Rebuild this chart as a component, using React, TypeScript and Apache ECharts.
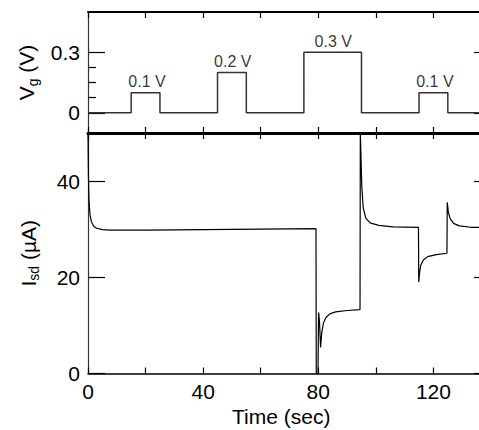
import React, { useEffect, useRef } from "react";
import * as echarts from "echarts";

// ---- Data ----
const gateTime = [0, 15, 15, 25, 25, 45, 45, 55, 55, 75, 75, 95, 95, 115, 115, 125, 125, 140];
const gateVoltage = [0, 0, 0.1, 0.1, 0, 0, 0.2, 0.2, 0, 0, 0.3, 0.3, 0, 0, 0.1, 0.1, 0, 0];

const pulseLabelTime = [20.5, 50.3, 85.2, 120.5];
const pulseLabelVoltage = [0.1, 0.2, 0.3, 0.1];
const pulseLabels = ["0.1 V", "0.2 V", "0.3 V", "0.1 V"];

const currentTime = [
  0, 0.15, 0.35, 0.7, 1.2, 2, 3, 5, 8, 20, 40, 60, 79.2,
  79.3, 79.9, 80.1, 80.4, 80.8, 81.2, 81.8, 82.6, 84, 86, 90, 94.5,
  94.6, 94.8, 95.1, 95.6, 96.5, 98, 101, 106, 114.8,
  114.9, 115.2, 115.6, 116.5, 118, 121, 124.7,
  124.8, 125.2, 125.8, 127, 129, 133, 140,
];
const currentValue = [
  50, 41, 36, 33, 31.5, 30.6, 30.2, 29.9, 29.8, 29.8, 29.9, 30.0, 30.1,
  0, 0, 12.7, 11, 5.4, 8.5, 10.5, 11.6, 12.4, 12.8, 13.1, 13.3,
  50, 46, 39, 34.5, 32.3, 31.3, 30.8, 30.5, 30.4,
  19, 21, 22.5, 23.6, 24.3, 24.7, 25,
  35.6, 33.5, 32.2, 31.2, 30.7, 30.4, 30.3,
];

const timeTicks = [0, 20, 40, 60, 80, 100, 120, 140];
const timeLabels = [0, 40, 80, 120];
const gateMajorTicks = [0, 0.3];
const gateMinorTicks = [0.075, 0.15, 0.225];
const currentTicks = [0, 20, 40];

const FONT = "'Liberation Sans', Arial, Helvetica, sans-serif";

export default function App() {
  const ref = useRef<HTMLDivElement>(null);

  useEffect(() => {
    if (!ref.current) return;
    const chart = echarts.init(ref.current, undefined, { renderer: "svg" });

    const xBase = (gridIndex: number, position: string, lineWidth: number) => ({
      type: "value",
      gridIndex,
      position,
      min: 0,
      max: 140,
      interval: 20,
      axisLine: { show: true, onZero: false, lineStyle: { color: "#000", width: lineWidth } },
      axisTick: { show: true, inside: true, length: 6, lineStyle: { color: "#000", width: 1.2 } },
      axisLabel: { show: false },
      splitLine: { show: false },
    });

    const yTicksOnly = (
      gridIndex: number,
      position: string,
      min: number,
      max: number,
      ticks: number[],
      length: number,
      showLine: boolean
    ) => ({
      type: "value",
      gridIndex,
      position,
      min,
      max,
      axisLine: { show: showLine, onZero: false, lineStyle: { color: "#333", width: 1.2 } },
      axisTick: {
        show: true,
        inside: true,
        length,
        customValues: ticks,
        lineStyle: { color: "#000", width: 1.2 },
      },
      axisLabel: { show: false },
      splitLine: { show: false },
    });

    const nameRich = {
      i: { fontSize: 21, fontFamily: FONT, color: "#000", lineHeight: 26 },
      s: { fontSize: 14, fontFamily: FONT, color: "#000", lineHeight: 26, verticalAlign: "bottom", padding: [8, 0, 0, 0] },
    };

    const option: any = {
      animation: false,
      backgroundColor: "#fff",
      textStyle: { fontFamily: FONT },
      grid: [
        { left: 88, top: 12, width: 403, height: 121, outerBoundsMode: "none", containLabel: false },
        { left: 88, top: 133, width: 403, height: 240.5, outerBoundsMode: "none", containLabel: false },
      ],
      xAxis: [
        xBase(0, "bottom", 2),
        xBase(0, "top", 2),
        {
          ...xBase(1, "bottom", 1.5),
          axisLabel: {
            show: true,
            margin: 7,
            fontSize: 21,
            color: "#000",
            fontFamily: FONT,
            customValues: timeLabels,
          },
          axisTick: {
            show: true,
            inside: true,
            length: 6,
            customValues: timeTicks,
            lineStyle: { color: "#000", width: 1.2 },
          },
        },
        xBase(1, "top", 3),
      ],
      yAxis: [
        {
          ...yTicksOnly(0, "left", -0.1, 0.5, gateMajorTicks, 17, true),
          axisLabel: {
            show: true,
            margin: 8,
            fontSize: 21,
            color: "#000",
            fontFamily: FONT,
            customValues: gateMajorTicks,
          },
          name: "{i|V}{s|g}{i| (V)}",
          nameLocation: "middle",
          nameGap: 46,
          nameRotate: 90,
          nameTextStyle: { rich: nameRich },
        },
        yTicksOnly(0, "left", -0.1, 0.5, gateMinorTicks, 8, false),
        yTicksOnly(0, "right", -0.1, 0.5, gateMajorTicks, 17, true),
        yTicksOnly(0, "right", -0.1, 0.5, gateMinorTicks, 8, false),
        {
          ...yTicksOnly(1, "left", 0, 50, currentTicks, 17, true),
          axisLabel: {
            show: true,
            margin: 8,
            fontSize: 21,
            color: "#000",
            fontFamily: FONT,
            customValues: currentTicks,
          },
          name: "{i|I}{s|sd}{i| (µA)}",
          nameLocation: "middle",
          nameGap: 47,
          nameRotate: 90,
          nameTextStyle: { rich: nameRich },
        },
        yTicksOnly(1, "right", 0, 50, currentTicks, 17, true),
      ],
      series: [
        {
          type: "line",
          xAxisIndex: 0,
          yAxisIndex: 0,
          data: gateTime.map((t, i) => [t, gateVoltage[i]]),
          symbol: "none",
          lineStyle: { color: "#333", width: 1.5 },
          silent: true,
        },
        {
          type: "scatter",
          xAxisIndex: 0,
          yAxisIndex: 0,
          symbolSize: 0,
          data: pulseLabelTime.map((t, i) => ({ value: [t, pulseLabelVoltage[i]], name: pulseLabels[i] })),
          label: {
            show: true,
            position: "top",
            distance: 3,
            formatter: "{b}",
            fontSize: 16,
            color: "#000",
            fontFamily: FONT,
          },
          silent: true,
        },
        {
          type: "line",
          xAxisIndex: 2,
          yAxisIndex: 4,
          data: currentTime.map((t, i) => [t, currentValue[i]]),
          symbol: "none",
          smooth: false,
          clip: true,
          lineStyle: { color: "#000", width: 1.2 },
          silent: true,
        },
      ],
      graphic: [
        {
          type: "text",
          left: 232,
          top: 406,
          style: {
            text: "Time (sec)",
            fontSize: 21,
            fontFamily: FONT,
            fill: "#000",
          },
        },
      ],
    };

    chart.setOption(option);
    return () => chart.dispose();
  }, []);

  return (
    <div
      ref={ref}
      style={{ position: "fixed", left: 0, top: 0, width: 479, height: 430 }}
    />
  );
}
